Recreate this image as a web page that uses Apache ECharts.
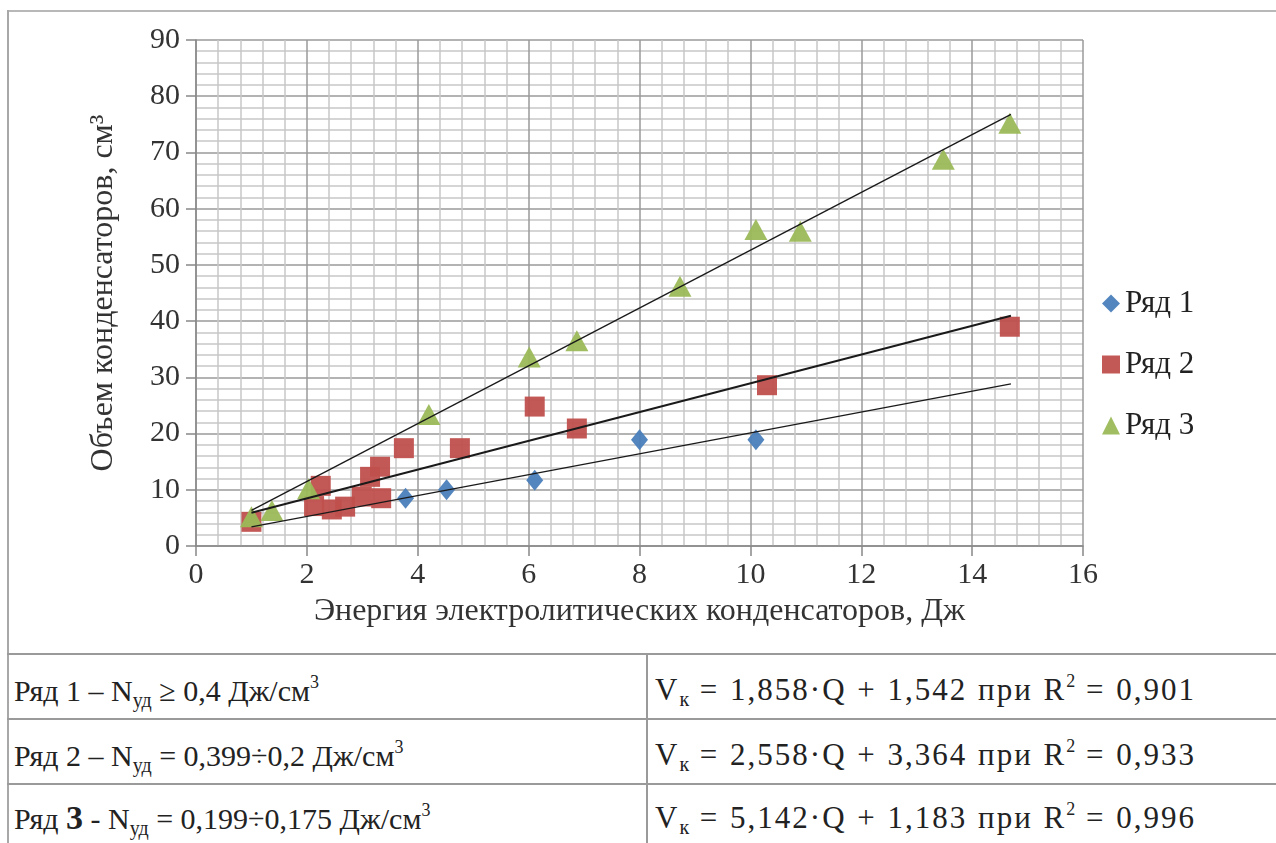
<!DOCTYPE html>
<html>
<head>
<meta charset="utf-8">
<script src="https://cdn.jsdelivr.net/npm/echarts@6/dist/echarts.min.js"></script>
<style>
  html, body { margin: 0; padding: 0; background: #fff; }
  #wrap { position: relative; width: 1276px; height: 843px; overflow: hidden; background: #fff; }
  #chart { position: absolute; left: 0; top: 0; width: 1276px; height: 653px; }
  .hl { position: absolute; left: 7px; right: 0; height: 2px; background: #9a9a9a; }
  .vl { position: absolute; width: 2px; background: #9a9a9a; }
  .cell { position: absolute; font-family: "Liberation Serif", "DejaVu Serif", serif; font-size: 30px; color: #222; white-space: nowrap; line-height: 1; }
  .cell.r { font-size: 31px; letter-spacing: 2px; word-spacing: 1px; }
  .cell sub { font-size: 20px; vertical-align: -6px; letter-spacing: 0; }
  .cell sup { font-size: 18px; vertical-align: 13px; letter-spacing: 0; }
</style>
</head>
<body>
<div id="wrap">
  <div id="chart"></div>
  <div class="hl" style="top:10px; left:8px; background:#b8b8b8;"></div>
  <div class="vl" style="left:7px; top:10px; height:833px; background:#a8a8a8;"></div>
  <div class="hl" style="top:653px;"></div>
  <div class="hl" style="top:718px;"></div>
  <div class="hl" style="top:783px;"></div>
  <div class="vl" style="left:646px; top:653px; height:190px;"></div>
  <div id="tbl"></div>
</div>
<script>
// ---- data ----
const seriesNames = ['Ряд 1', 'Ряд 2', 'Ряд 3'];
const xTicks = { min: 0, max: 16, step: 2 };
const yTicks = { min: 0, max: 90, step: 10 };
const row1 = [[3.78, 8.5], [4.52, 10.0], [6.11, 11.7], [8.0, 18.9], [10.1, 18.9]];
const row2 = [[1.0, 4.3], [2.13, 7.1], [2.25, 10.7], [2.45, 6.5], [2.69, 7.0], [2.99, 8.8],
              [3.14, 12.3], [3.32, 14.1], [3.34, 8.5], [3.75, 17.4], [4.76, 17.4],
              [6.11, 24.8], [6.87, 20.9], [10.3, 28.6], [14.68, 39.0]];
const row3 = [[1.0, 5.2], [1.37, 6.3], [2.03, 10.2], [4.2, 23.4], [6.01, 33.6], [6.87, 36.5],
              [8.73, 46.2], [10.1, 56.3], [10.9, 56.0], [13.48, 68.8], [14.68, 75.2]];
// trend lines: V = a*Q + b
const trendSlope = [1.858, 2.558, 5.142];
const trendIntercept = [1.542, 3.364, 1.183];
const trendRange = [1.0, 14.7];
const tableLeft = [
  'Ряд 1 – N<sub>уд</sub> ≥ 0,4 Дж/см<sup>3</sup>',
  'Ряд 2 – N<sub>уд</sub> = 0,399÷0,2 Дж/см<sup>3</sup>',
  'Ряд <b style="font-size:34px">3</b> - N<sub>уд</sub> = 0,199÷0,175 Дж/см<sup>3</sup>'
];
const tableRight = [
  'V<sub>к</sub> = 1,858·Q + 1,542 при R<sup>2</sup> = 0,901',
  'V<sub>к</sub> = 2,558·Q + 3,364 при R<sup>2</sup> = 0,933',
  'V<sub>к</sub> = 5,142·Q + 1,183 при R<sup>2</sup> = 0,996'
];
const xTitle = 'Энергия электролитических конденсаторов, Дж';
const yTitle = 'Объем конденсаторов, см³';

// ---- table ----
const tbl = document.getElementById('tbl');
const rowTops = [673, 738, 801];
rowTops.forEach((t, i) => {
  const a = document.createElement('div');
  a.className = 'cell'; a.style.left = '14px'; a.style.top = t + 'px';
  a.innerHTML = tableLeft[i]; tbl.appendChild(a);
  const b = document.createElement('div');
  b.className = 'cell r'; b.style.left = '655px'; b.style.top = (t - 1) + 'px';
  b.innerHTML = tableRight[i]; tbl.appendChild(b);
});

// ---- chart ----
const colors = ['#4A7EBB', '#C0504D', '#9BBB59'];
const symbols = ['diamond', 'rect', 'triangle'];
const symbolSizes = [[17, 21], 20, [23, 21]];
const font = '"Liberation Serif", "DejaVu Serif", serif';
const pts = [row1, row2, row3];

const series = [];
pts.forEach((d, i) => {
  series.push({
    name: seriesNames[i], type: 'scatter', data: d,
    symbol: symbols[i], symbolSize: symbolSizes[i],
    itemStyle: { color: colors[i], opacity: 0.95 }, z: 3
  });
});
trendSlope.forEach((a, i) => {
  series.push({
    name: 'trend' + (i + 1), type: 'line', showSymbol: false, silent: true,
    data: trendRange.map(x => [x, a * x + trendIntercept[i]]),
    lineStyle: { color: '#1a1a1a', width: i === 1 ? 2 : 1.3 }, z: 4
  });
});

const chart = echarts.init(document.getElementById('chart'), null, { renderer: 'canvas' });
chart.setOption({
  animation: false,
  backgroundColor: 'transparent',
  grid: { left: 196, top: 40, width: 887, height: 506 },
  legend: {
    data: seriesNames, orient: 'vertical', left: 1097, top: 283,
    itemGap: 30, itemWidth: 18, itemHeight: 18,
    textStyle: { fontFamily: font, fontSize: 31, color: '#222' }
  },
  xAxis: {
    type: 'value', min: xTicks.min, max: xTicks.max, interval: xTicks.step,
    name: xTitle, nameLocation: 'middle', nameGap: 50,
    nameTextStyle: { fontFamily: font, fontSize: 32, color: '#333' },
    axisLine: { show: true, lineStyle: { color: '#888', width: 1.5 } },
    axisTick: { show: true, length: 10, lineStyle: { color: '#888', width: 1.5 } },
    axisLabel: { fontFamily: font, fontSize: 30, color: '#333', margin: 14 },
    splitLine: { show: true, lineStyle: { color: '#9a9a9a', width: 1.5 } },
    minorTick: { show: false, splitNumber: 5 },
    minorSplitLine: { show: true, lineStyle: { color: '#c8c8c8', width: 1.5 } }
  },
  yAxis: {
    type: 'value', min: yTicks.min, max: yTicks.max, interval: yTicks.step,
    name: yTitle, nameLocation: 'middle', nameGap: 76, nameRotate: 90,
    nameTextStyle: { fontFamily: font, fontSize: 32, color: '#333' },
    axisLine: { show: true, lineStyle: { color: '#888', width: 1.5 } },
    axisTick: { show: true, length: 10, lineStyle: { color: '#888', width: 1.5 } },
    axisLabel: { fontFamily: font, fontSize: 30, color: '#333', margin: 16 },
    splitLine: { show: true, lineStyle: { color: '#9a9a9a', width: 1.5 } },
    minorTick: { show: false, splitNumber: 5 },
    minorSplitLine: { show: true, lineStyle: { color: '#c8c8c8', width: 1.5 } }
  },
  series: series
});
</script>
</body>
</html>
